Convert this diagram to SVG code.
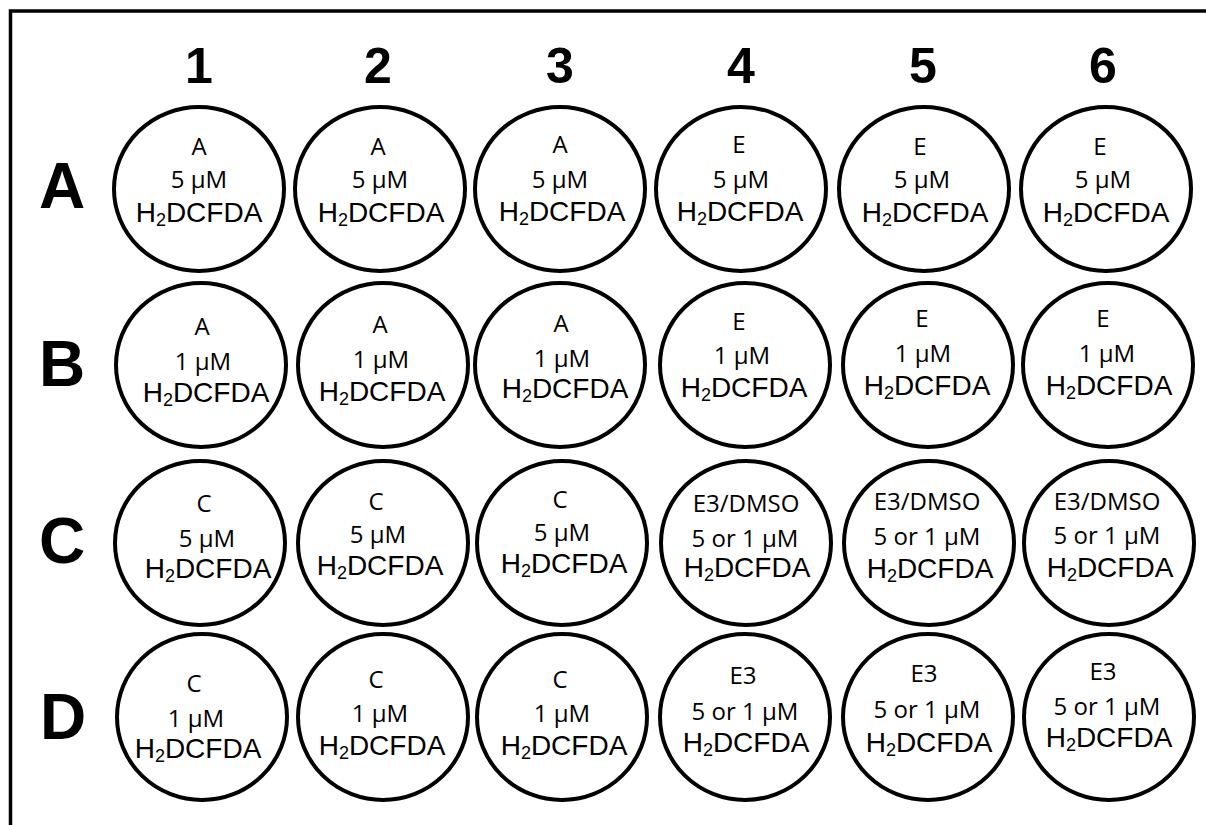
<svg xmlns="http://www.w3.org/2000/svg" width="1206" height="825" viewBox="0 0 1206 825">
<style>
.well{fill:#fff;stroke:#000;stroke-width:4}
.hdr{font-family:"Liberation Sans",Arial,sans-serif;font-weight:bold;fill:#000;text-anchor:middle}
.col{font-size:50px}
.row{font-size:64px}
.t{font-family:"Open Sans",sans-serif;font-size:24px;fill:#000;text-anchor:middle}
.h{font-family:"Liberation Sans",Arial,sans-serif;font-size:28px;fill:#000;text-anchor:middle}
.s{font-size:18px}
</style>
<rect x="0" y="0" width="1206" height="825" fill="#fff"/>
<rect x="10.5" y="11" width="1210" height="830" fill="none" stroke="#000" stroke-width="3.5"/>
<g id="headers">
<text class="hdr col" x="199" y="83">1</text>
<text class="hdr col" x="378" y="83">2</text>
<text class="hdr col" x="560" y="83">3</text>
<text class="hdr col" x="741" y="83">4</text>
<text class="hdr col" x="923" y="83">5</text>
<text class="hdr col" x="1103" y="83">6</text>
<text class="hdr row" x="62" y="208">A</text>
<text class="hdr row" x="62" y="386">B</text>
<text class="hdr row" x="62" y="563">C</text>
<text class="hdr row" x="63" y="739">D</text>
</g>
<g id="A1"><ellipse class="well" cx="199" cy="189" rx="85" ry="82"/><text class="t" x="199" y="155">A</text><text class="t" x="199" y="188">5 µM</text><text class="h" x="199" y="222">H<tspan class="s" dy="4">2</tspan><tspan dy="-4">DCFDA</tspan></text></g>
<g id="A2"><ellipse class="well" cx="380" cy="189" rx="85" ry="82"/><text class="t" x="378" y="155">A</text><text class="t" x="380" y="188">5 µM</text><text class="h" x="381" y="222">H<tspan class="s" dy="4">2</tspan><tspan dy="-4">DCFDA</tspan></text></g>
<g id="A3"><ellipse class="well" cx="560" cy="189" rx="85" ry="82"/><text class="t" x="560" y="153">A</text><text class="t" x="560" y="188">5 µM</text><text class="h" x="562" y="221">H<tspan class="s" dy="4">2</tspan><tspan dy="-4">DCFDA</tspan></text></g>
<g id="A4"><ellipse class="well" cx="741" cy="189" rx="85" ry="82"/><text class="t" x="739" y="153">E</text><text class="t" x="741" y="188">5 µM</text><text class="h" x="740" y="221">H<tspan class="s" dy="4">2</tspan><tspan dy="-4">DCFDA</tspan></text></g>
<g id="A5"><ellipse class="well" cx="924" cy="189" rx="85" ry="82"/><text class="t" x="920" y="155">E</text><text class="t" x="922" y="188">5 µM</text><text class="h" x="925" y="222">H<tspan class="s" dy="4">2</tspan><tspan dy="-4">DCFDA</tspan></text></g>
<g id="A6"><ellipse class="well" cx="1106" cy="189" rx="85" ry="82"/><text class="t" x="1100" y="155">E</text><text class="t" x="1103" y="188">5 µM</text><text class="h" x="1106" y="222">H<tspan class="s" dy="4">2</tspan><tspan dy="-4">DCFDA</tspan></text></g>
<g id="B1"><ellipse class="well" cx="201" cy="365" rx="85" ry="82"/><text class="t" x="202" y="335">A</text><text class="t" x="203" y="370">1 µM</text><text class="h" x="206" y="402">H<tspan class="s" dy="4">2</tspan><tspan dy="-4">DCFDA</tspan></text></g>
<g id="B2"><ellipse class="well" cx="383" cy="365" rx="85" ry="82"/><text class="t" x="380" y="333">A</text><text class="t" x="381" y="368">1 µM</text><text class="h" x="382" y="401">H<tspan class="s" dy="4">2</tspan><tspan dy="-4">DCFDA</tspan></text></g>
<g id="B3"><ellipse class="well" cx="560" cy="365" rx="85" ry="82"/><text class="t" x="561" y="332">A</text><text class="t" x="562" y="367">1 µM</text><text class="h" x="565" y="398">H<tspan class="s" dy="4">2</tspan><tspan dy="-4">DCFDA</tspan></text></g>
<g id="B4"><ellipse class="well" cx="745" cy="365" rx="85" ry="82"/><text class="t" x="739" y="330">E</text><text class="t" x="742" y="364">1 µM</text><text class="h" x="744" y="397">H<tspan class="s" dy="4">2</tspan><tspan dy="-4">DCFDA</tspan></text></g>
<g id="B5"><ellipse class="well" cx="928" cy="365" rx="85" ry="82"/><text class="t" x="922" y="327">E</text><text class="t" x="923" y="362">1 µM</text><text class="h" x="927" y="395">H<tspan class="s" dy="4">2</tspan><tspan dy="-4">DCFDA</tspan></text></g>
<g id="B6"><ellipse class="well" cx="1108" cy="365" rx="85" ry="82"/><text class="t" x="1103" y="327">E</text><text class="t" x="1107" y="362">1 µM</text><text class="h" x="1109" y="395">H<tspan class="s" dy="4">2</tspan><tspan dy="-4">DCFDA</tspan></text></g>
<g id="C1"><ellipse class="well" cx="200" cy="543" rx="85" ry="82"/><text class="t" x="204" y="512">C</text><text class="t" x="207" y="547">5 µM</text><text class="h" x="208" y="578">H<tspan class="s" dy="4">2</tspan><tspan dy="-4">DCFDA</tspan></text></g>
<g id="C2"><ellipse class="well" cx="383" cy="543" rx="85" ry="82"/><text class="t" x="376" y="510">C</text><text class="t" x="378" y="543">5 µM</text><text class="h" x="380" y="575">H<tspan class="s" dy="4">2</tspan><tspan dy="-4">DCFDA</tspan></text></g>
<g id="C3"><ellipse class="well" cx="562" cy="543" rx="85" ry="82"/><text class="t" x="560" y="508">C</text><text class="t" x="562" y="541">5 µM</text><text class="h" x="564" y="573">H<tspan class="s" dy="4">2</tspan><tspan dy="-4">DCFDA</tspan></text></g>
<g id="C4"><ellipse class="well" cx="746" cy="543" rx="85" ry="82"/><text class="t" x="746" y="512">E3/DMSO</text><text class="t" x="745" y="547">5 or 1 µM</text><text class="h" x="747" y="577">H<tspan class="s" dy="4">2</tspan><tspan dy="-4">DCFDA</tspan></text></g>
<g id="C5"><ellipse class="well" cx="929" cy="543" rx="85" ry="82"/><text class="t" x="927" y="510">E3/DMSO</text><text class="t" x="927" y="545">5 or 1 µM</text><text class="h" x="930" y="578">H<tspan class="s" dy="4">2</tspan><tspan dy="-4">DCFDA</tspan></text></g>
<g id="C6"><ellipse class="well" cx="1109" cy="543" rx="85" ry="82"/><text class="t" x="1107" y="510">E3/DMSO</text><text class="t" x="1107" y="544">5 or 1 µM</text><text class="h" x="1110" y="577">H<tspan class="s" dy="4">2</tspan><tspan dy="-4">DCFDA</tspan></text></g>
<g id="D1"><ellipse class="well" cx="202" cy="717" rx="85" ry="83"/><text class="t" x="194" y="692">C</text><text class="t" x="196" y="727">1 µM</text><text class="h" x="198" y="758">H<tspan class="s" dy="4">2</tspan><tspan dy="-4">DCFDA</tspan></text></g>
<g id="D2"><ellipse class="well" cx="383" cy="717" rx="85" ry="83"/><text class="t" x="376" y="688">C</text><text class="t" x="380" y="722">1 µM</text><text class="h" x="382" y="755">H<tspan class="s" dy="4">2</tspan><tspan dy="-4">DCFDA</tspan></text></g>
<g id="D3"><ellipse class="well" cx="562" cy="717" rx="85" ry="83"/><text class="t" x="560" y="688">C</text><text class="t" x="562" y="722">1 µM</text><text class="h" x="564" y="755">H<tspan class="s" dy="4">2</tspan><tspan dy="-4">DCFDA</tspan></text></g>
<g id="D4"><ellipse class="well" cx="745" cy="717" rx="85" ry="83"/><text class="t" x="743" y="684">E3</text><text class="t" x="745" y="720">5 or 1 µM</text><text class="h" x="746" y="752">H<tspan class="s" dy="4">2</tspan><tspan dy="-4">DCFDA</tspan></text></g>
<g id="D5"><ellipse class="well" cx="928" cy="717" rx="85" ry="83"/><text class="t" x="924" y="682">E3</text><text class="t" x="927" y="718">5 or 1 µM</text><text class="h" x="929" y="752">H<tspan class="s" dy="4">2</tspan><tspan dy="-4">DCFDA</tspan></text></g>
<g id="D6"><ellipse class="well" cx="1109" cy="717" rx="85" ry="83"/><text class="t" x="1103" y="680">E3</text><text class="t" x="1107" y="715">5 or 1 µM</text><text class="h" x="1109" y="747">H<tspan class="s" dy="4">2</tspan><tspan dy="-4">DCFDA</tspan></text></g>
</svg>
